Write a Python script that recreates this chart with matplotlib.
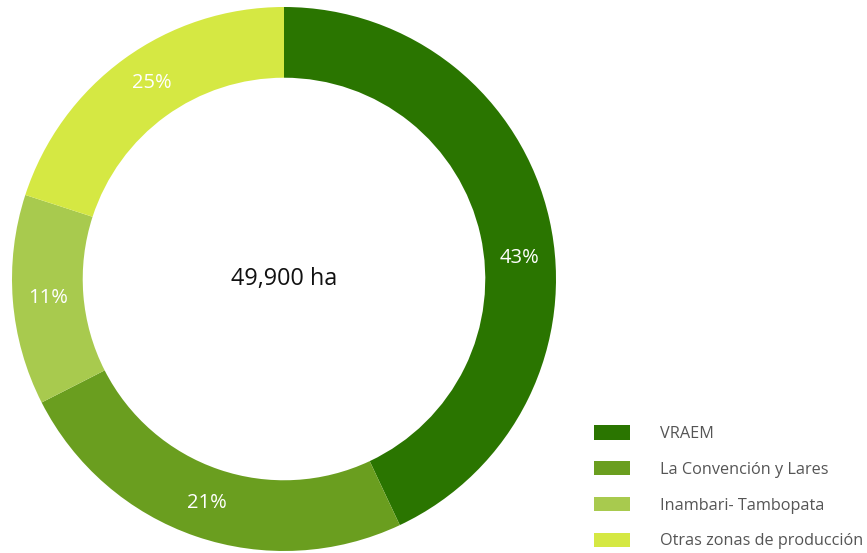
import matplotlib
matplotlib.use("Agg")
import matplotlib.pyplot as plt
import numpy as np
from matplotlib.patches import Patch

zonas = ["VRAEM", "La Convención y Lares", "Inambari- Tambopata", "Otras zonas de producción"]
etiquetas = ["43%", "21%", "11%", "25%"]          # printed labels
arcos = [43, 24.5, 12.5, 20]                       # share of the ring as drawn in the picture
colores = ["#2a7500", "#6a9e1f", "#a8ca4e", "#d5e843"]
total_texto = "49,900 ha"

plt.rcParams['font.family'] = ['Open Sans', 'DejaVu Sans']

W, H = 867, 553
fig = plt.figure(figsize=(W / 100, H / 100), dpi=100)

# donut axes in pixel coords: centre (284, 279 from top), radius 272
cx, cy, r = 284, H - 279, 272
ax = fig.add_axes([(cx - r) / W, (cy - r) / H, 2 * r / W, 2 * r / H])
wedges, texts = ax.pie(arcos, colors=colores, startangle=90, counterclock=False,
                       radius=1, wedgeprops=dict(width=0.26, edgecolor='none'),
                       labels=etiquetas, labeldistance=0.87,
                       textprops=dict(color='white', fontsize=14.5))
# label angles: middle of each wedge, the first one sits a bit lower in the original
desvio = [-7.5, 0, 0, -2]
for w, t, d in zip(wedges, texts, desvio):
    ang = np.deg2rad((w.theta1 + w.theta2) / 2 + d)
    t.set_position((0.87 * np.cos(ang), 0.87 * np.sin(ang)))
    t.set_horizontalalignment('center')
    t.set_verticalalignment('center')
ax.set_xlim(-1, 1)
ax.set_ylim(-1, 1)
ax.set_aspect('equal')
ax.axis('off')
ax.text(0, 0, total_texto, ha='center', va='center', fontsize=16.8, color='#111111')

handles = [Patch(facecolor=c, edgecolor='none') for c in colores]
leg = fig.legend(handles, zonas, loc='upper left', bbox_to_anchor=(594 / W, 1 - 425 / H),
                 frameon=False, fontsize=11.7, handlelength=2.2, handleheight=1.0,
                 handletextpad=1.85, labelspacing=1.17, borderaxespad=0, borderpad=0)
for t in leg.get_texts():
    t.set_color('#555555')

fig.savefig("out.png", dpi=100)
